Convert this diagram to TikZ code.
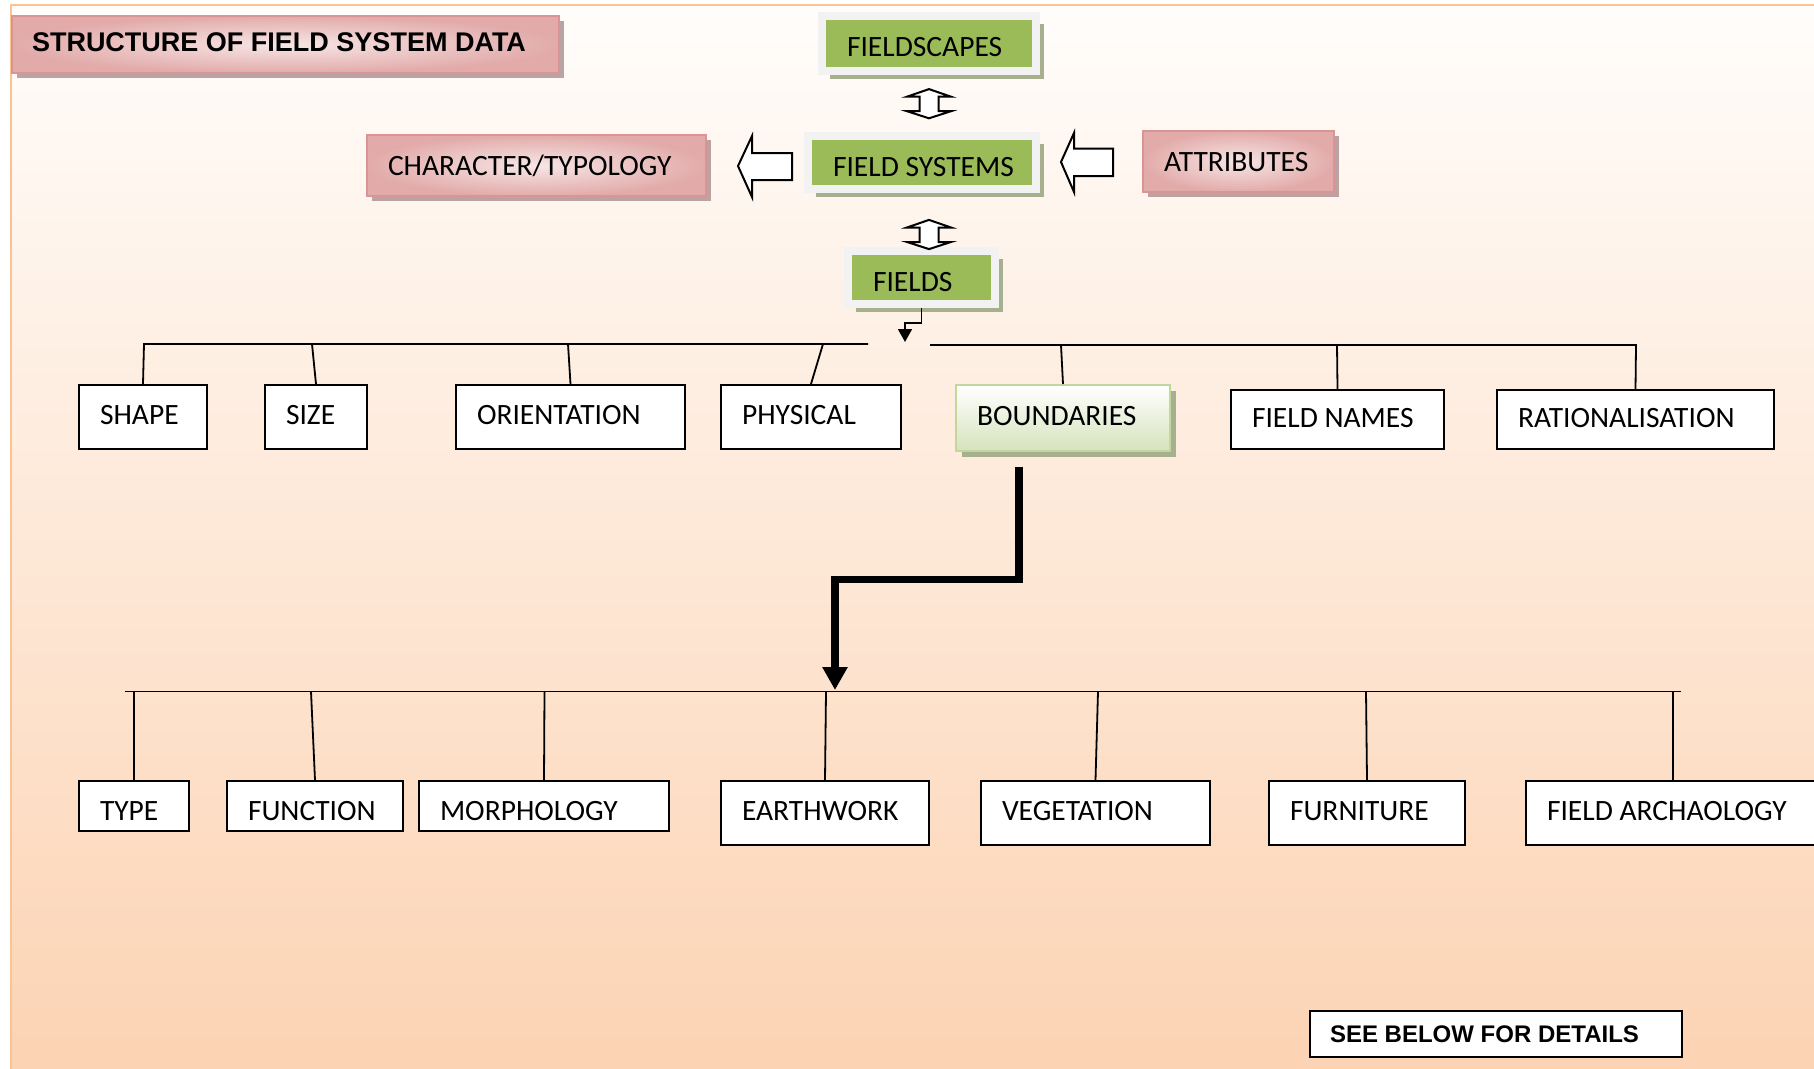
\documentclass[tikz,border=0pt]{standalone}
\usepackage{fontspec}
\setmainfont{Carlito}
\newfontfamily\arialfont{Liberation Sans}
\usetikzlibrary{arrows.meta,shadows,calc}
\definecolor{bgtop}{HTML}{FFFDFB}
\definecolor{bgbot}{HTML}{FCD3B3}
\definecolor{frameor}{HTML}{F9C393}
\definecolor{pinkdark}{HTML}{D99594}
\definecolor{pinkout}{HTML}{E2ABAA}
\definecolor{pinkin}{HTML}{F6E6E5}
\definecolor{pinkshadow}{HTML}{BCA3A3}
\definecolor{greenfill}{HTML}{9BBB59}
\definecolor{greyframe}{HTML}{F2F2F2}
\definecolor{greenshadow}{HTML}{A7B08E}
\definecolor{bndbot}{HTML}{D6E3BC}
\definecolor{bndborder}{HTML}{C3D69B}
\newcommand\tbx[2]{\makebox[#1pt][l]{#2}}
\tikzset{
  lab/.style={font=\fontsize{29.5}{35}\selectfont, text height=19pt, text depth=4pt, inner ysep=0pt, anchor=center},
  wbox/.style={lab, draw=black, line width=2pt, fill=white, inner xsep=21pt},
  gbox/.style={lab, draw=greyframe, line width=8pt, fill=greenfill, inner xsep=25pt, text height=27pt, text depth=0pt,
    general shadow={fill=greenshadow, shadow xshift=8pt, shadow yshift=-8pt}},
  pbox/.style={lab, draw=pinkdark, line width=2pt, inner color=pinkin, outer color=pinkout,
    inner xsep=21pt, general shadow={fill=pinkshadow, shadow xshift=5pt, shadow yshift=-5pt}},
  bbox/.style={lab, draw=bndborder, line width=2pt, top color=white, bottom color=bndbot, inner xsep=21pt,
    general shadow={fill=greenshadow, shadow xshift=6pt, shadow yshift=-6pt}},
  tree/.style={draw=black, line width=1.8pt},
  hollow/.style={draw=black, line width=2pt, fill=white, line join=miter},
  bigarrow/.style={draw=black, line width=7.7pt, line join=miter, -{Triangle[width=24pt,length=23pt]}},
  smallarrow/.style={draw=black, line width=1.6pt, -{Triangle[width=14pt,length=13pt]}}
}
\begin{document}
\begin{tikzpicture}[x=1pt,y=-1pt]
\useasboundingbox (0,0) rectangle (1814,1068);
\clip (0,0) rectangle (1814,1068);
\fill[white] (0,0) rectangle (1814,1068);
\shade[top color=bgtop, bottom color=bgbot] (11,5) rectangle (1820,1072);
\draw[frameor, line width=2pt] (11,1072) -- (11,5) -- (1820,5);

% title
\node[pbox, minimum height=57pt, font=\arialfont\bfseries\fontsize{27}{32}\selectfont, text height=19.3pt, text depth=6pt, inner xsep=20pt]
  (title) at (285.5,44.5) {\tbx{507}{STRUCTURE OF FIELD SYSTEM DATA}};

% green boxes
\node[gbox, minimum height=55pt] (fscape) at (929,43) {\tbx{164}{FIELDSCAPES}};
\node[gbox, minimum height=53pt] (fsys) at (922,162.5) {\tbx{178}{FIELD SYSTEMS}};
\node[gbox, minimum height=53pt] (fields) at (921.5,277.5) {\tbx{97}{FIELDS}};

% pink side boxes
\node[pbox, minimum height=61pt, text depth=0pt] (chartyp) at (536.5,165.5) {\tbx{297}{CHARACTER/TYPOLOGY}};
\node[pbox, minimum height=61pt, text depth=0pt] (attr) at (1238.5,161.5) {\tbx{149}{ATTRIBUTES}};

% hollow block arrows
\draw[hollow] (738,166) -- (752,136) -- (752,153) -- (792,153) -- (792,180) -- (752,180) -- (752,197) -- cycle;
\draw[hollow] (1061,162) -- (1074,133) -- (1074,148.5) -- (1113,148.5) -- (1113,176) -- (1074,176) -- (1074,192) -- cycle;

% double arrows
\coordinate (da1) at (929,103.7);
\coordinate (da2) at (929,234.5);
\foreach \c in {da1,da2}{
  \draw[hollow, shift={(\c)}] (0,-14.6) -- (22,-7) -- (9.5,-7) -- (9.5,7.5) -- (22,7.5) -- (0,14.6)
     -- (-22,7.5) -- (-9.5,7.5) -- (-9.5,-7) -- (-22,-7) -- cycle;
}

% first row
\node[wbox, minimum height=64pt] (shape) at (143,417) {\tbx{86}{SHAPE}};
\node[wbox, minimum height=64pt] (size) at (316,417) {\tbx{60}{SIZE}};
\node[wbox, minimum height=64pt] (orient) at (570.5,417) {\tbx{187}{ORIENTATION}};
\node[wbox, minimum height=64pt] (phys) at (811,417) {\tbx{138}{PHYSICAL}};
\node[bbox, minimum height=66pt] (bound) at (1063,418) {\tbx{172}{BOUNDARIES}};
\node[wbox, minimum height=59pt] (fnames) at (1337.5,419.5) {\tbx{171}{FIELD NAMES}};
\node[wbox, minimum height=59pt] (ration) at (1635.5,419.5) {\tbx{235}{RATIONALISATION}};

% second row
\node[wbox, minimum height=50pt, text height=29pt, text depth=0pt] (type) at (134,806) {\tbx{68}{TYPE}};
\node[wbox, minimum height=50pt, text height=29pt, text depth=0pt] (func) at (315,806) {\tbx{134}{FUNCTION}};
\node[wbox, minimum height=50pt, text height=29pt, text depth=0pt] (morph) at (544,806) {\tbx{208}{MORPHOLOGY}};
\node[wbox, minimum height=64pt] (earth) at (825,813) {\tbx{166}{EARTHWORK}};
\node[wbox, minimum height=64pt] (veg) at (1095.5,813) {\tbx{187}{VEGETATION}};
\node[wbox, minimum height=64pt] (furn) at (1367,813) {\tbx{154}{FURNITURE}};
\node[wbox, minimum height=64pt] (farch) at (1673,813) {\tbx{252}{FIELD ARCHAOLOGY}};

% note
\node[lab, draw=black, line width=2.5pt, fill=white, minimum height=46pt, inner xsep=20pt,
  font=\arialfont\bfseries\fontsize{24}{29}\selectfont, text height=17.2pt, text depth=0pt] (note) at (1496,1034)
  {\tbx{332}{SEE BELOW FOR DETAILS}};

% upper bus
\coordinate (busLa) at (144,344);
\coordinate (busLb) at (868,344);
\coordinate (busRa) at (930,345);
\coordinate (busRb) at (1636,345);
\coordinate (jsize) at (312,344);
\coordinate (jorient) at (568,344);
\coordinate (jphys) at (823,344);
\coordinate (jbound) at (1061,345);
\coordinate (jfnames) at (1337,345);
\draw[tree] (shape.north) -- (busLa) -- (busLb);
\draw[tree] (busRa) -- (busRb) -- (ration.north);
\draw[tree] (jsize) -- (size.north);
\draw[tree] (jorient) -- (orient.north);
\draw[tree] (jphys) -- (phys.north);
\draw[tree] (jbound) -- (bound.north);
\draw[tree] (jfnames) -- (fnames.north);

% small arrow from FIELDS
\coordinate (fa) at (905,342);
\draw[smallarrow] (fields.south) -- ++(0,15) -| (fa);

% lower bus
\coordinate (lbusa) at (124.5,691.5);
\coordinate (lbusb) at (1681,691.5);
\coordinate (ltype) at (134,691.5);
\coordinate (lfunc) at (311,691.5);
\coordinate (lmorph) at (544.5,691.5);
\coordinate (learth) at (826,691.5);
\coordinate (lveg) at (1098,691.5);
\coordinate (lfurn) at (1366,691.5);
\coordinate (lfarch) at (1673,691.5);
\draw[tree] (lbusa) -- (lbusb);
\foreach \a/\b in {ltype/type,lfunc/func,lmorph/morph,learth/earth,lveg/veg,lfurn/furn,lfarch/farch}{
  \draw[tree] (\a) -- (\b.north);
}

% big arrow from BOUNDARIES to the lower bus
\coordinate (bstart) at (1019,467);
\coordinate (lowjoin) at (835,690);
\draw[bigarrow] (bstart) -- ++(0,112.5) -| (lowjoin);
\end{tikzpicture}
\end{document}
